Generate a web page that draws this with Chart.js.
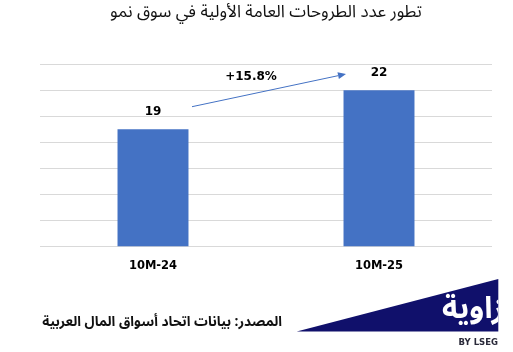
<!DOCTYPE html>
<html>
<head>
<meta charset="utf-8">
<script src="https://cdn.jsdelivr.net/npm/chart.js@4.4.1/dist/chart.umd.min.js"></script>
<style>
  html, body { margin: 0; padding: 0; background: #ffffff; }
  #wrap { width: 513px; height: 352px; }
</style>
</head>
<body>
<div id="wrap"><canvas id="c" width="513" height="352"></canvas></div>
<script>
// ---- Data ----
const categories = ['10M-24', '10M-25'];
const ipoCounts = [19, 22];
const changeLabel = '+15.8%';
const yTicks = [10, 12, 14, 16, 18, 20, 22, 24];
const titleText = 'تطور عدد الطروحات العامة الأولية في سوق نمو';
const sourceText = 'المصدر: بيانات اتحاد أسواق المال العربية';
const logoText = 'زاوية';
const logoSub = 'BY LSEG';

const BAR_COLOR = '#4472C4';
const LATIN_BOLD = 'bold 12px "DejaVu Sans", sans-serif';

const decorPlugin = {
  id: 'decor',
  afterDatasetsDraw(chart) {
    const ctx = chart.ctx;
    const xs = chart.scales.x, ys = chart.scales.y;
    const meta = chart.getDatasetMeta(0);
    ctx.save();
    // value labels above bars
    ctx.font = LATIN_BOLD;
    ctx.fillStyle = '#000000';
    ctx.textAlign = 'center';
    ctx.textBaseline = 'middle';
    meta.data.forEach((bar, i) => {
      ctx.fillText(String(ipoCounts[i]), bar.x, bar.y - 17);
    });
    // growth arrow
    const x0 = xs.getPixelForValue(0) + 39, y0 = ys.getPixelForValue(ipoCounts[0]) - 22.6;
    const x1 = xs.getPixelForValue(1) - 33, y1 = ys.getPixelForValue(ipoCounts[1]) - 16.3;
    ctx.strokeStyle = BAR_COLOR;
    ctx.fillStyle = BAR_COLOR;
    ctx.lineWidth = 1;
    const ang = Math.atan2(y1 - y0, x1 - x0);
    const hl = 8, hw = 3.5;
    const bx = x1 - hl * Math.cos(ang), by = y1 - hl * Math.sin(ang);
    ctx.beginPath();
    ctx.moveTo(x0, y0);
    ctx.lineTo(bx, by);
    ctx.stroke();
    ctx.beginPath();
    ctx.moveTo(x1, y1);
    ctx.lineTo(bx + hw * Math.sin(ang), by - hw * Math.cos(ang));
    ctx.lineTo(bx - hw * Math.sin(ang), by + hw * Math.cos(ang));
    ctx.closePath();
    ctx.fill();
    // change label
    ctx.fillStyle = '#000000';
    ctx.font = LATIN_BOLD;
    ctx.textAlign = 'center';
    ctx.fillText(changeLabel, (xs.getPixelForValue(0) + xs.getPixelForValue(1)) / 2 - 15, ys.getPixelForValue(ipoCounts[1]) - 13.6);
    ctx.restore();
  },
  afterDraw(chart) {
    const ctx = chart.ctx;
    ctx.save();
    // source text
    ctx.direction = 'rtl';
    ctx.font = 'bold 13.7px "Noto Sans Arabic", "DejaVu Sans", sans-serif';
    ctx.fillStyle = '#111111';
    ctx.textAlign = 'right';
    ctx.textBaseline = 'middle';
    ctx.fillText(sourceText, 282, 323.5);
    // logo triangle
    ctx.fillStyle = '#10106b';
    ctx.beginPath();
    ctx.moveTo(296.7, 331.5);
    ctx.lineTo(498.3, 279);
    ctx.lineTo(498.3, 331.5);
    ctx.closePath();
    ctx.fill();
    // logo text (clipped at right edge)
    ctx.save();
    ctx.beginPath();
    ctx.rect(0, 0, 498.3, 352);
    ctx.clip();
    ctx.fillStyle = '#ffffff';
    ctx.font = 'bold 30px "Noto Sans Arabic", "DejaVu Sans", sans-serif';
    ctx.textAlign = 'right';
    ctx.textBaseline = 'alphabetic';
    ctx.fillText(logoText, 504, 318);
    ctx.restore();
    ctx.direction = 'ltr';
    ctx.fillStyle = '#2a2a3a';
    ctx.font = 'bold 8.5px "DejaVu Sans", sans-serif';
    ctx.textAlign = 'right';
    ctx.textBaseline = 'middle';
    ctx.fillText(logoSub, 498, 342.5);
    ctx.restore();
  }
};

new Chart(document.getElementById('c'), {
  type: 'bar',
  data: {
    labels: categories,
    datasets: [{
      data: ipoCounts,
      backgroundColor: BAR_COLOR,
      borderWidth: 0,
      barPercentage: 0.314,
      categoryPercentage: 1.0
    }]
  },
  options: {
    responsive: false,
    animation: false,
    devicePixelRatio: 1,
    layout: { padding: { left: 40, right: 21, top: 0, bottom: 0 } },
    plugins: {
      legend: { display: false },
      tooltip: { enabled: false },
      title: {
        display: true,
        text: titleText,
        color: '#111111',
        font: { family: '"Noto Sans Arabic", "DejaVu Sans", sans-serif', size: 17, weight: 'normal', lineHeight: 1.2 },
        padding: { top: 4.5, bottom: 39.4 }
      }
    },
    scales: {
      x: {
        grid: { display: false, drawTicks: false },
        border: { display: false },
        ticks: {
          color: '#000000',
          font: { family: '"DejaVu Sans", sans-serif', size: 11.5, weight: 'bold' },
          padding: 13
        },
        afterFit(s) { s.height = 105.7; }
      },
      y: {
        min: yTicks[0],
        max: yTicks[yTicks.length - 1],
        afterBuildTicks(s) { s.ticks = yTicks.map(v => ({ value: v })); },
        grid: { color: '#d9d9d9', lineWidth: 1, drawTicks: false },
        border: { display: false },
        ticks: { display: false }
      }
    }
  },
  plugins: [decorPlugin]
});
</script>
</body>
</html>
